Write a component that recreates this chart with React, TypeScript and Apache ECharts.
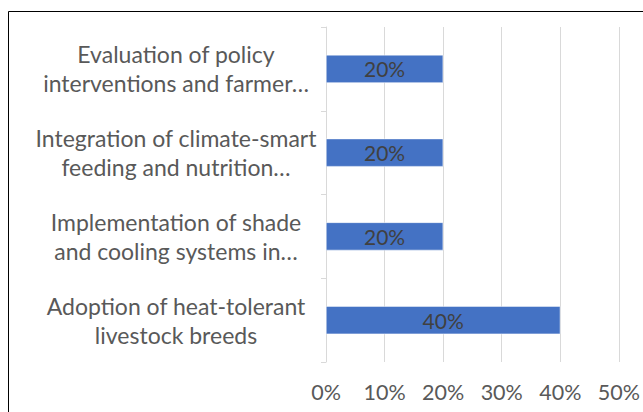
import React, { useEffect, useRef } from "react";
import * as echarts from "echarts";

const categories = [
  "Evaluation of policy\ninterventions and farmer…",
  "Integration of climate-smart\nfeeding and nutrition…",
  "Implementation of shade\nand cooling systems in…",
  "Adoption of heat-tolerant\nlivestock breeds",
];
const values = [0.2, 0.2, 0.2, 0.4];
const xTicks = [0, 0.1, 0.2, 0.3, 0.4, 0.5];

const FONT = "Lato, 'Noto Sans', sans-serif";

export default function App() {
  const ref = useRef<HTMLDivElement>(null);
  useEffect(() => {
    if (!ref.current) return;
    const chart = echarts.init(ref.current, undefined, { renderer: "svg" });
    chart.setOption({
      animation: false,
      backgroundColor: "#ffffff",
      textStyle: { fontFamily: FONT },
      graphic: [
        {
          type: "rect",
          shape: { x: 8.5, y: 11.5, width: 700, height: 500 },
          style: { fill: "none", stroke: "#000000", lineWidth: 1 },
          silent: true,
        },
      ],
      grid: { left: 326, right: 23, top: 27, bottom: 50, containLabel: false },
      xAxis: {
        type: "value",
        min: xTicks[0],
        max: xTicks[xTicks.length - 1],
        interval: 0.1,
        axisLine: { show: false },
        axisTick: { show: false },
        splitLine: { show: true, lineStyle: { color: "#d9d9d9", width: 1 } },
        axisLabel: {
          color: "#595959",
          fontSize: 21.5,
          fontFamily: FONT,
          margin: 19,
          formatter: (v: number) => `${Math.round(v * 100)}%`,
        },
      },
      yAxis: {
        type: "category",
        data: categories,
        inverse: true,
        axisLine: { show: true, lineStyle: { color: "#d9d9d9", width: 1 } },
        axisTick: { show: true, length: 5, lineStyle: { color: "#d9d9d9" } },
        axisLabel: {
          color: "#595959",
          fontSize: 23,
          fontFamily: FONT,
          align: "center",
          margin: 150,
          lineHeight: 29,
        },
      },
      series: [
        {
          type: "bar",
          data: values,
          barWidth: 28,
          itemStyle: { color: "#4472C4", borderColor: "#ffffff", borderWidth: 0.5 },
          label: {
            show: true,
            position: "inside",
            color: "#404040",
            fontSize: 21,
            fontFamily: FONT,
            formatter: (p: any) => `${Math.round(p.value * 100)}%`,
          },
        },
      ],
    });
    return () => chart.dispose();
  }, []);
  return (
    <div
      ref={ref}
      style={{ position: "fixed", left: 0, top: 0, width: 643, height: 412 }}
    />
  );
}
